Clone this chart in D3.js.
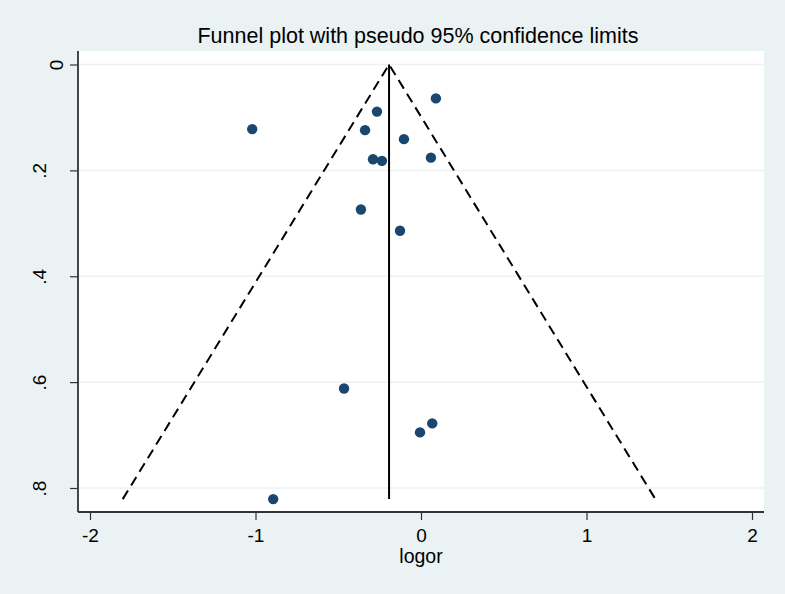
<!DOCTYPE html>
<html>
<head>
<meta charset="utf-8">
<script src="https://cdn.jsdelivr.net/npm/d3@7"></script>
<style>
  html, body { margin: 0; padding: 0; background: #eaf2f3; }
  svg { display: block; font-family: "Liberation Sans", Arial, Helvetica, sans-serif; }
</style>
</head>
<body>
<svg id="chart"></svg>
<script>
// study estimates (log odds ratio) and their standard errors
const logor = [0.09, -0.266, -1.02, -0.338, -0.103, -0.29, -0.236, 0.06, -0.363, -0.127, -0.465, 0.068, -0.006, -0.893]
const se = [0.064, 0.089, 0.122, 0.124, 0.141, 0.179, 0.182, 0.176, 0.274, 0.314, 0.612, 0.678, 0.695, 0.821]
const pooled = -0.193
const xTicks = [-2, -1, 0, 1, 2]
const yTicks = [0, 0.2, 0.4, 0.6, 0.8]

const width = 785, height = 594
const margin = {top: 51, right: 21, bottom: 82, left: 78}

const svg = d3.select('#chart')
  .attr('width', width)
  .attr('height', height)

svg.append('rect')
  .attr('width', width).attr('height', height)
  .attr('fill', '#eaf2f3')

// plot region
svg.append('rect')
  .attr('x', margin.left).attr('y', margin.top)
  .attr('width', width - margin.left - margin.right)
  .attr('height', height - margin.top - margin.bottom)
  .attr('fill', '#ffffff')

const x = d3.scaleLinear().domain([-2, 2]).range([90, 752])
const y = d3.scaleLinear().domain([0, 0.8]).range([64.5, 488])

// grid
svg.append('g')
  .selectAll('line')
  .data(yTicks)
  .join('line')
    .attr('x1', margin.left).attr('x2', width - margin.right)
    .attr('y1', d => y(d)).attr('y2', d => y(d))
    .attr('stroke', '#eaf2f3').attr('stroke-width', 1.5)

// axes
const xAxis = svg.append('g')
  .attr('transform', 'translate(0,' + (height - margin.bottom) + ')')
  .call(d3.axisBottom(x).tickValues(xTicks).tickFormat(d => String(d)).tickSize(8).tickSizeOuter(0).tickPadding(9))
xAxis.select('.domain').attr('d', 'M' + margin.left + ',0H' + (width - margin.right)).attr('stroke', '#333').attr('stroke-width', 1.8)
xAxis.selectAll('.tick line').attr('stroke', '#333').attr('stroke-width', 1.2)
xAxis.selectAll('.tick text').attr('font-size', 19).attr('fill', '#000')

const yFmt = d => d === 0 ? '0' : d3.format('.1f')(d).replace(/^0/, '')
const yAxis = svg.append('g')
  .attr('transform', 'translate(' + margin.left + ',0)')
  .call(d3.axisLeft(y).tickValues(yTicks).tickFormat(yFmt).tickSize(8).tickSizeOuter(0))
yAxis.select('.domain').attr('d', 'M0,' + margin.top + 'V' + (height - margin.bottom)).attr('stroke', '#333').attr('stroke-width', 1.8)
yAxis.selectAll('.tick line').attr('stroke', '#333').attr('stroke-width', 1.2)
// rotated labels; baseline sits on the right side of each label
yAxis.selectAll('.tick text')
  .attr('font-size', 19).attr('fill', '#000')
  .attr('x', null).attr('dy', null)
  .attr('text-anchor', 'middle')
  .attr('transform', d => 'translate(' + (d === 0 ? -15 : -32.5) + ',0) rotate(-90)')

// funnel limits
const maxSe = d3.max(se)
const funnel = svg.append('g').attr('fill', 'none').attr('stroke', '#000').attr('stroke-width', 2)
funnel.append('path')
  .attr('stroke-dasharray', '10,6')
  .attr('d', d3.line()([[x(pooled - 1.96 * maxSe), y(maxSe)], [x(pooled), y(0)], [x(pooled + 1.96 * maxSe), y(maxSe)]]))
funnel.append('line')
  .attr('x1', x(pooled)).attr('x2', x(pooled))
  .attr('y1', y(0)).attr('y2', y(maxSe))

// studies
svg.append('g')
  .attr('fill', '#1a476f')
  .selectAll('circle')
  .data(logor)
  .join('circle')
    .attr('cx', d => x(d))
    .attr('cy', (d, i) => y(se[i]))
    .attr('r', 5.2)

// titles
svg.append('text')
  .attr('x', 418).attr('y', 43)
  .attr('text-anchor', 'middle')
  .attr('font-size', 21.5)
  .text('Funnel plot with pseudo 95% confidence limits')

svg.append('text')
  .attr('x', x(0)).attr('y', 563)
  .attr('text-anchor', 'middle')
  .attr('font-size', 19.5)
  .text('logor')
</script>
</body>
</html>
